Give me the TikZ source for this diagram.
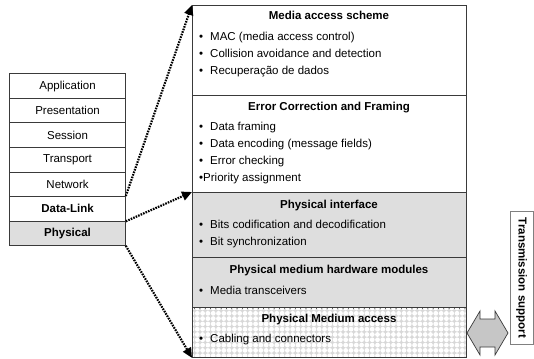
\documentclass[tikz,border=0pt]{standalone}
\usepackage{fontspec}
\setmainfont{Liberation Sans}
\usetikzlibrary{arrows.meta}
\definecolor{boxgray}{HTML}{DEDEDE}
\definecolor{edgegray}{HTML}{3A3A3A}
\definecolor{dotgray}{HTML}{D8D8D8}
\definecolor{arrowgray}{HTML}{C6C6C6}
\begin{document}
\begin{tikzpicture}[x=1pt,y=-1pt,
  font=\fontsize{11.5}{13.8}\selectfont,
  layer/.style={draw=edgegray, line width=0.8pt, minimum width=115.7pt,
    minimum height=24.5pt, inner sep=0pt, anchor=north west},
  band/.style={draw=edgegray, line width=0.9pt, minimum width=274pt,
    inner sep=0pt, anchor=north west},
  ttl/.style={font=\fontsize{11.5}{13.8}\selectfont\bfseries,
    text height=8.5pt, text depth=2.5pt, inner sep=0pt},
  itm/.style={anchor=west, text height=8.5pt, text depth=2.5pt, inner sep=0pt},
  link/.style={line width=2.2pt, dash pattern=on 1.6pt off 1.1pt,
    -{Triangle[length=10pt,width=9pt]}},
]
\useasboundingbox (0,0) rectangle (534,358);

% protocol stack on the left
\node[layer] (app) at (9.3,73.5)  {Application};
\node[layer] (pre) at (9.3,98)    {Presentation};
\node[layer] (ses) at (9.3,122.5) {Session};
\node[layer] (tra) at (9.3,147)   {Transport};
\node[layer] (net) at (9.3,171.5) {Network};
\node[layer, font=\fontsize{11.5}{13.8}\selectfont\bfseries] (dl) at (9.3,196) {Data-Link};
\node[layer, fill=boxgray, font=\fontsize{11.5}{13.8}\selectfont\bfseries] (ph) at (9.3,220.5) {Physical};

% detailed functions on the right
\node[band, minimum height=90pt] (mas) at (192,5) {};
\node[band, minimum height=97pt] (ecf) at (192,95) {};
\node[band, minimum height=65pt, fill=boxgray] (pif) at (192,192) {};
\node[band, minimum height=50.5pt, fill=boxgray] (pmh) at (192,257) {};
\node[band, minimum height=49.5pt, fill=dotgray] (pma) at (192,307.5) {};

% dotted texture of the medium access band
\begin{scope}
  \clip (pma.north west) rectangle (pma.south east);
  \foreach \i in {0,...,52}
    \foreach \j in {0,...,10}
      \fill[white] (192+\i*5.3, 308+\j*5.3) circle (2.4pt);
\end{scope}
\draw[edgegray, line width=0.9pt] (pma.north west) rectangle (pma.south east);

% band texts
\node[ttl] (t1) at (329,17) {Media access scheme};
\node[itm] at (199,38)  {\makebox[11pt][l]{•}MAC (media access control)};
\node[itm] at (199,55)  {\makebox[11pt][l]{•}Collision avoidance and detection};
\node[itm] at (199,72)  {\makebox[11pt][l]{•}Recuperação de dados};

\node[ttl] (t2) at (329,108) {Error Correction and Framing};
\node[itm] at (199,128)   {\makebox[11pt][l]{•}Data framing};
\node[itm] at (199,144.5) {\makebox[11pt][l]{•}Data encoding (message fields)};
\node[itm] at (199,161)   {\makebox[11pt][l]{•}Error checking};
\node[itm] at (199,178)   {•Priority assignment};

\node[ttl] (t3) at (329,205) {Physical interface};
\node[itm] at (199,225) {\makebox[11pt][l]{•}Bits codification and decodification};
\node[itm] at (199,242) {\makebox[11pt][l]{•}Bit synchronization};

\node[ttl] (t4) at (329,270) {Physical medium hardware modules};
\node[itm] at (199,291) {\makebox[11pt][l]{•}Media transceivers};

\node[ttl] (t5) at (329,319) {Physical Medium access};
\node[itm] at (199,339) {\makebox[11pt][l]{•}Cabling and connectors};

% transmission support
\node[draw=gray, line width=0.8pt, fill=white, minimum width=22.5pt,
  minimum height=133pt, inner sep=0pt, anchor=north west] (ts) at (510,211) {};
\node[rotate=-90, font=\fontsize{11.5}{13.8}\selectfont\bfseries, inner sep=0pt]
  at (ts.center) {Transmission support};

% two-way exchange with the medium
\draw[fill=arrowgray, draw=edgegray, line width=0.7pt]
  (467,333) -- (480,311) -- (480,319) -- (495,319) -- (495,311) -- (508,333)
  -- (495,355) -- (495,347) -- (480,347) -- (480,355) -- cycle;

% mapping of stack layers onto the detailed bands
\draw[link] (dl.north east) -- (mas.north west);
\draw[link] (dl.south east) -- (pif.north west);
\draw[link] (ph.south east) -- (pma.south west);
\end{tikzpicture}
\end{document}
